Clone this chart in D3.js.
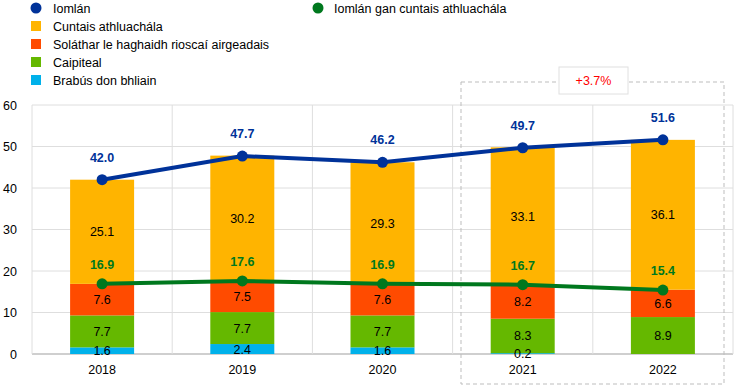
<!DOCTYPE html>
<html>
<head>
<meta charset="utf-8">
<script src="https://cdn.jsdelivr.net/npm/d3@7"></script>
<style>
  body { margin: 0; background: #fff; }
  svg text { font-family: "Liberation Sans", Arial, sans-serif; }
</style>
</head>
<body>
<svg id="chart" width="744" height="389"></svg>
<script>
// data
const years = ['2018', '2019', '2020', '2021', '2022'];
const surplus = [1.6, 2.4, 1.6, 0.2, 0];
const capital = [7.7, 7.7, 7.7, 8.3, 8.9];
const provisions = [7.6, 7.5, 7.6, 8.2, 6.6];
const revaluation = [25.1, 30.2, 29.3, 33.1, 36.1];
const total = [42.0, 47.7, 46.2, 49.7, 51.6];
const totalExRev = [16.9, 17.6, 16.9, 16.7, 15.4];
const yTicks = [0, 10, 20, 30, 40, 50, 60];

const seriesNames = ['Brabús don bhliain', 'Caipiteal', 'Soláthar le haghaidh rioscaí airgeadais', 'Cuntais athluachála'];
const seriesColors = ['#00b1ea', '#65b800', '#ff4b00', '#ffb400'];
const seriesValues = [surplus, capital, provisions, revaluation];

const svg = d3.select('#chart');
const margin = { left: 32, right: 11, top: 105, bottom: 35 };
const W = 744, H = 389;

const x = d3.scaleBand().domain(years).range([margin.left, W - margin.right]).paddingInner(0).paddingOuter(0);
const y = d3.scaleLinear().domain([0, 60]).range([H - margin.bottom, margin.top]);
const barW = 64;
const cx = d => x(d) + x.bandwidth() / 2;

// grid
const grid = svg.append('g');
grid.selectAll('line.h').data(yTicks).enter().append('line')
  .attr('x1', margin.left).attr('x2', W - margin.right)
  .attr('y1', d => y(d)).attr('y2', d => y(d))
  .attr('stroke', d => d === 0 ? '#cfcfcf' : '#dedede').attr('stroke-width', d => d === 0 ? 2 : 1);
const vx = years.map(d => x(d)).concat([W - margin.right]);
grid.selectAll('line.v').data(vx).enter().append('line')
  .attr('x1', d => d).attr('x2', d => d)
  .attr('y1', y(60)).attr('y2', y(0))
  .attr('stroke', '#dedede');

// y axis labels
svg.append('g').selectAll('text').data(yTicks).enter().append('text')
  .attr('x', 17).attr('y', d => y(d) + 4.5)
  .attr('text-anchor', 'end').attr('font-size', 12.5).attr('fill', '#000')
  .text(d => d);

// x axis labels
svg.append('g').selectAll('text').data(years).enter().append('text')
  .attr('x', d => cx(d)).attr('y', H - 15)
  .attr('text-anchor', 'middle').attr('font-size', 12.5).attr('fill', '#000')
  .text(d => d);

// stacked bars
const rows = years.map((yr, i) => {
  const r = { year: yr };
  seriesNames.forEach((n, j) => { r[n] = seriesValues[j][i]; });
  return r;
});
const stacked = d3.stack().keys(seriesNames)(rows);
const bars = svg.append('g');
stacked.forEach((layer, j) => {
  bars.selectAll(null).data(layer).enter().append('rect')
    .attr('x', d => cx(d.data.year) - barW / 2)
    .attr('width', barW)
    .attr('y', d => y(d[1]))
    .attr('height', d => y(d[0]) - y(d[1]))
    .attr('fill', seriesColors[j]);
});
stacked.forEach((layer, j) => {
  bars.selectAll(null).data(layer.filter(d => d[1] - d[0] > 0)).enter().append('text')
    .attr('x', d => cx(d.data.year))
    .attr('y', d => y((d[0] + d[1]) / 2) + 4.5)
    .attr('text-anchor', 'middle').attr('font-size', 12.5).attr('fill', '#000')
    .text(d => (d[1] - d[0]).toFixed(1));
});

// dashed box for 2021-2022
svg.append('rect')
  .attr('x', 461).attr('y', 82).attr('width', 263).attr('height', 302)
  .attr('fill', 'none').attr('stroke', '#bdbdbd').attr('stroke-dasharray', '4,3');
svg.append('rect')
  .attr('x', 559).attr('y', 67).attr('width', 69).attr('height', 27)
  .attr('fill', '#fff').attr('stroke', '#e0e0e0');
svg.append('text').attr('x', 593.5).attr('y', 85)
  .attr('text-anchor', 'middle').attr('font-size', 12.5).attr('fill', '#ff0000')
  .text('+3.7%');

// lines
function drawLine(vals, color, dy) {
  const line = d3.line().x((d, i) => cx(years[i])).y(d => y(d));
  svg.append('path').datum(vals).attr('d', line)
    .attr('fill', 'none').attr('stroke', color).attr('stroke-width', 4);
  svg.append('g').selectAll('circle').data(vals).enter().append('circle')
    .attr('cx', (d, i) => cx(years[i])).attr('cy', d => y(d)).attr('r', 5.5)
    .attr('fill', color);
  svg.append('g').selectAll('text').data(vals).enter().append('text')
    .attr('x', (d, i) => cx(years[i])).attr('y', d => y(d) - dy)
    .attr('text-anchor', 'middle').attr('font-size', 12.5).attr('font-weight', 'bold')
    .attr('fill', color).text(d => d.toFixed(1));
}
drawLine(totalExRev, '#00781e', 15);
drawLine(total, '#003299', 18);

// legend
const leg = svg.append('g');
leg.append('circle').attr('cx', 36).attr('cy', 8).attr('r', 5.5).attr('fill', '#003299');
leg.append('text').attr('x', 53).attr('y', 12.5).attr('font-size', 12.5).text('Iomlán');
leg.append('circle').attr('cx', 318).attr('cy', 8).attr('r', 5.5).attr('fill', '#00781e');
leg.append('text').attr('x', 334).attr('y', 12.5).attr('font-size', 12.5).text('Iomlán gan cuntais athluachála');
const legOrder = [3, 2, 1, 0];
legOrder.forEach((j, k) => {
  const yy = 26 + k * 18;
  leg.append('rect').attr('x', 31).attr('y', yy - 5).attr('width', 10).attr('height', 10).attr('fill', seriesColors[j]);
  leg.append('text').attr('x', 53).attr('y', yy + 4.5).attr('font-size', 12.5).text(seriesNames[j]);
});
</script>
</body>
</html>
